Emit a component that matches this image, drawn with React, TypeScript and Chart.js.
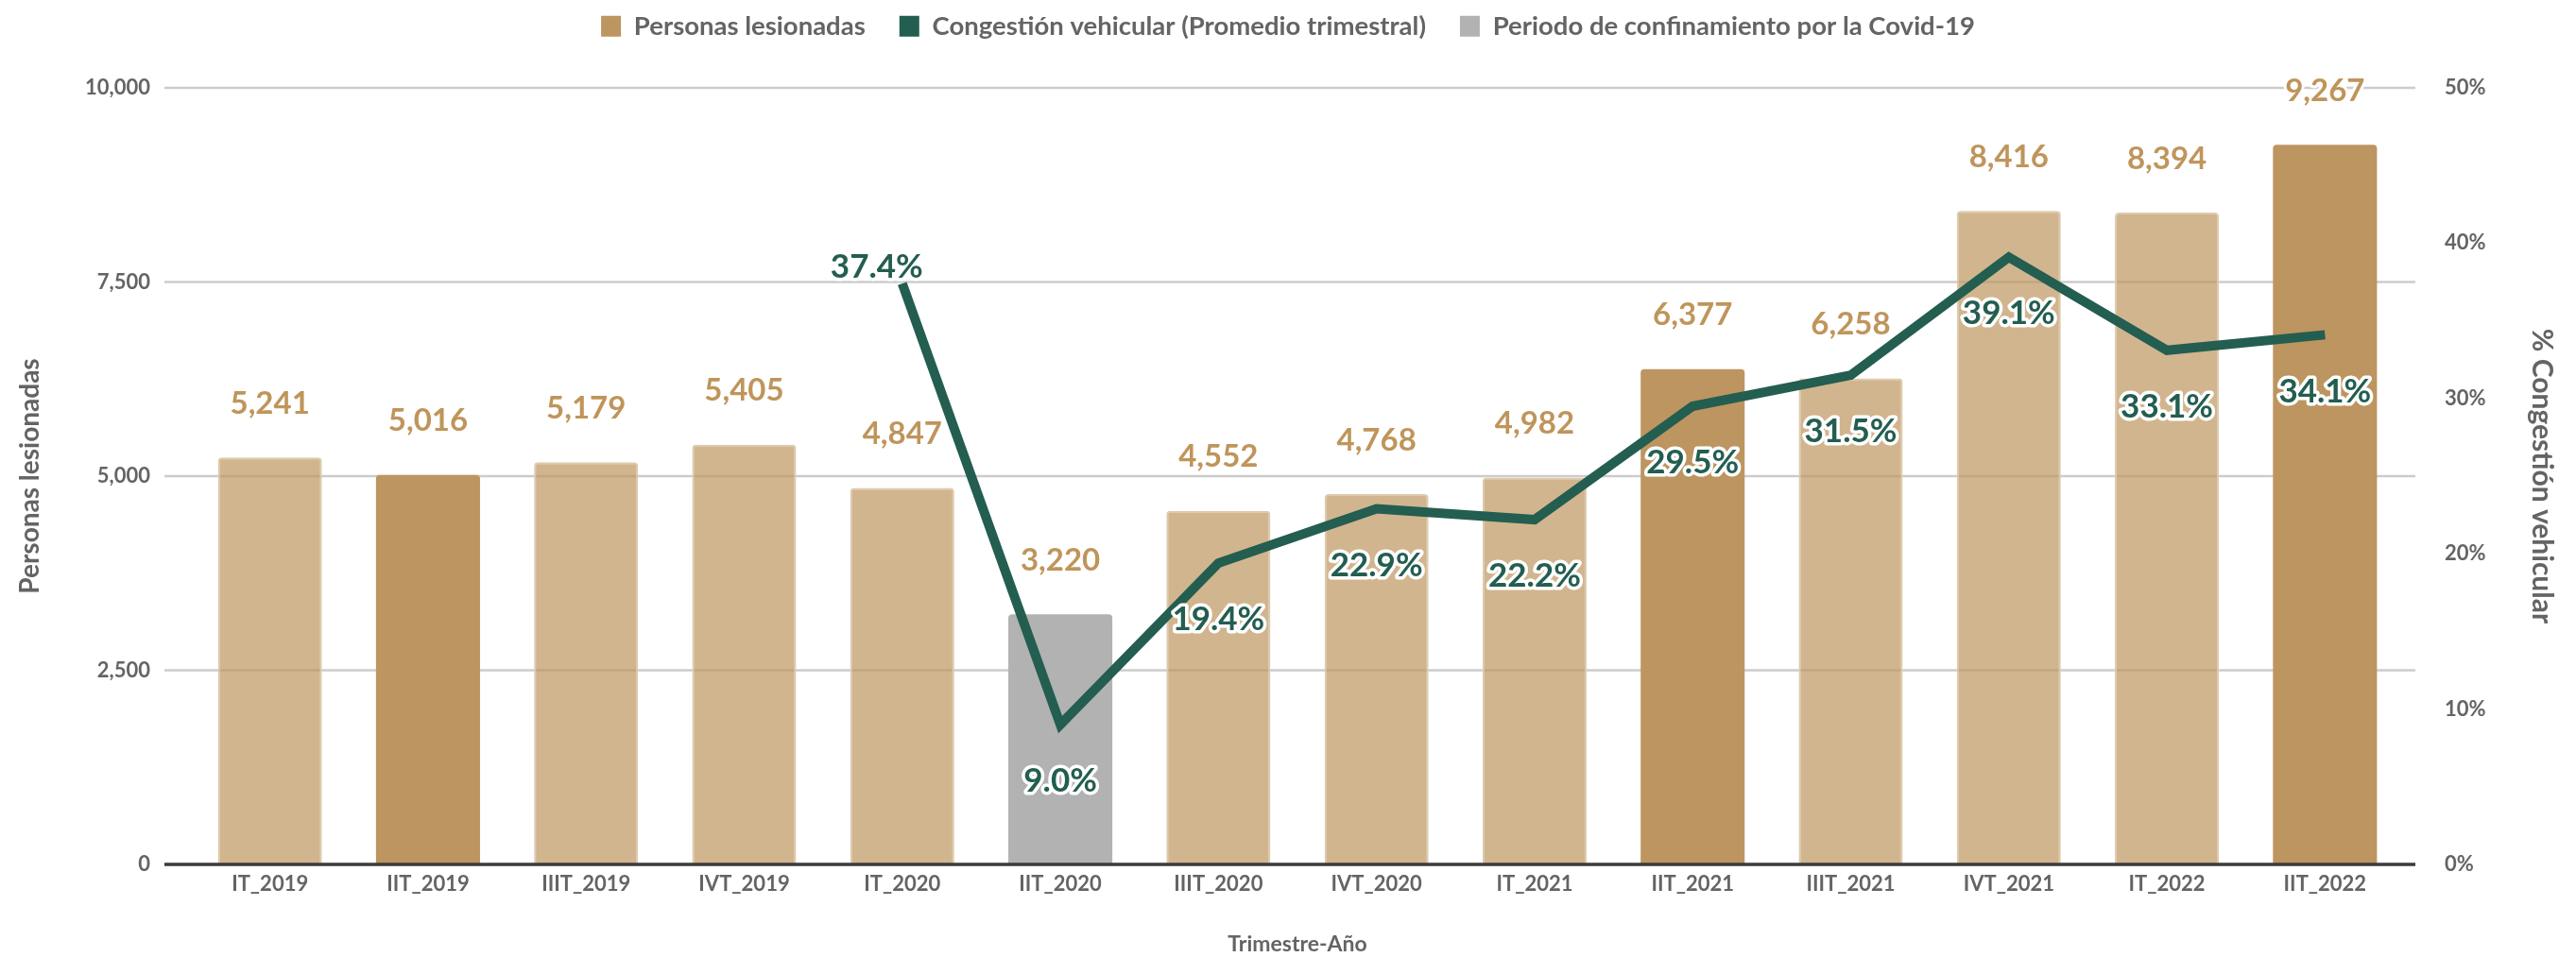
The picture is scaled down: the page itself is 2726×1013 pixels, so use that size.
import React, { useEffect, useRef } from 'react';
import { Chart, registerables } from 'chart.js';

Chart.register(...registerables);
Chart.defaults.font.family = 'Lato, "Open Sans", sans-serif';

// ---------- data ----------
const categories = [
  'IT_2019', 'IIT_2019', 'IIIT_2019', 'IVT_2019',
  'IT_2020', 'IIT_2020', 'IIIT_2020', 'IVT_2020',
  'IT_2021', 'IIT_2021', 'IIIT_2021', 'IVT_2021',
  'IT_2022', 'IIT_2022',
];
const injured = [5241, 5016, 5179, 5405, 4847, 3220, 4552, 4768, 4982, 6377, 6258, 8416, 8394, 9267];
const congestion: (number | null)[] = [null, null, null, null, 37.4, 9.0, 19.4, 22.9, 22.2, 29.5, 31.5, 39.1, 33.1, 34.1];
const highlighted = ['IIT_2019', 'IIT_2021', 'IIT_2022'];
const lockdown = ['IIT_2020'];
const leftAxis = { min: 0, max: 10000, step: 2500 };
const rightAxis = { min: 0, max: 50, step: 10 };
const seriesNames = [
  'Personas lesionadas',
  'Congestión vehicular (Promedio trimestral)',
  'Periodo de confinamiento por la Covid-19',
];

// ---------- style ----------
const DARK = '#BD9560';
const LIGHT = 'rgba(189,149,96,0.7)';
const LIGHT_EDGE = '#DDCAAD';
const GRAY = '#B2B2B2';
const GREEN = '#235E50';
const TAN_TEXT = '#BF955B';
const AXIS_TEXT = '#646464';
const GRID = '#CCCCCC';

const isLight = (i: number) => !highlighted.includes(categories[i]);

const customPlugin = {
  id: 'customDraw',
  beforeLayout(chart: any) {
    const lg = chart.legend;
    if (lg && !lg.__patched) {
      const orig = lg.fit;
      lg.fit = function () {
        orig.call(this);
        this.height = 93;
      };
      lg.__patched = true;
    }
  },
  afterLayout(chart: any) {
    const lg = chart.legend;
    if (lg) {
      lg.top -= 22;
      lg.bottom -= 22;
    }
  },
  beforeDatasetsDraw(chart: any) {
    const { ctx, chartArea } = chart;
    const y = chart.scales.y;
    ctx.save();
    ctx.strokeStyle = GRID;
    ctx.lineWidth = 2.5;
    y.ticks.forEach((t: any) => {
      if (t.value === leftAxis.min) return;
      const py = y.getPixelForValue(t.value);
      ctx.beginPath();
      ctx.moveTo(chartArea.left - 28, py);
      ctx.lineTo(chartArea.right + 12, py);
      ctx.stroke();
    });
    ctx.restore();
  },
  afterDatasetsDraw(chart: any) {
    const { ctx, chartArea } = chart;
    const y = chart.scales.y;
    ctx.save();
    // baseline
    const by = y.getPixelForValue(leftAxis.min);
    ctx.strokeStyle = '#3A3A3A';
    ctx.lineWidth = 3.5;
    ctx.beginPath();
    ctx.moveTo(chartArea.left - 28, by);
    ctx.lineTo(chartArea.right + 12, by);
    ctx.stroke();

    ctx.textAlign = 'center';
    ctx.textBaseline = 'middle';
    ctx.lineJoin = 'round';

    // bar labels
    [0, 2].forEach((di) => {
      const meta = chart.getDatasetMeta(di);
      const data = chart.data.datasets[di].data;
      meta.data.forEach((el: any, i: number) => {
        const v = data[i];
        if (v == null) return;
        const text = Number(v).toLocaleString('en-US');
        ctx.font = 'bold 33px Lato, "Open Sans", sans-serif';
        ctx.strokeStyle = '#FFFFFF';
        ctx.lineWidth = 6;
        ctx.strokeText(text, el.x, el.y - 57);
        ctx.fillStyle = TAN_TEXT;
        ctx.fillText(text, el.x, el.y - 57);
      });
    });

    // line labels
    const lmeta = chart.getDatasetMeta(1);
    const ldata = chart.data.datasets[1].data;
    lmeta.data.forEach((el: any, i: number) => {
      const v = ldata[i];
      if (v == null) return;
      const first = i === 0 || ldata[i - 1] == null;
      const x = first ? el.x - 27 : el.x;
      const yy = first ? el.y - 17 : el.y + 60;
      const text = Number(v).toFixed(1) + '%';
      ctx.font = 'bold 35px Lato, "Open Sans", sans-serif';
      ctx.strokeStyle = '#FFFFFF';
      ctx.lineWidth = 7;
      ctx.strokeText(text, x, yy);
      ctx.fillStyle = GREEN;
      ctx.fillText(text, x, yy);
    });
    ctx.restore();
  },
};

export default function App() {
  const ref = useRef<HTMLCanvasElement>(null);

  useEffect(() => {
    if (!ref.current) return;
    const mainBars = injured.map((v, i) => (lockdown.includes(categories[i]) ? null : v));
    const lockBars = injured.map((v, i) => (lockdown.includes(categories[i]) ? v : null));

    const chart = new Chart(ref.current, {
      type: 'bar',
      data: {
        labels: categories,
        datasets: [
          {
            type: 'bar',
            label: seriesNames[0],
            data: mainBars,
            yAxisID: 'y',
            backgroundColor: categories.map((_, i) => (isLight(i) ? LIGHT : DARK)),
            borderColor: LIGHT_EDGE,
            borderWidth: categories.map((_, i) =>
              isLight(i) ? { top: 2, left: 2, right: 2, bottom: 0 } : 0
            ) as any,
            borderRadius: 4,
            borderSkipped: 'bottom',
            grouped: false,
            barPercentage: 0.658,
            categoryPercentage: 1,
            order: 2,
          } as any,
          {
            type: 'line',
            label: seriesNames[1],
            data: congestion,
            yAxisID: 'y1',
            borderColor: GREEN,
            backgroundColor: GREEN,
            borderWidth: 10,
            borderJoinStyle: 'miter',
            borderCapStyle: 'butt',
            pointRadius: 0,
            pointHoverRadius: 0,
            tension: 0,
            spanGaps: false,
            order: 0,
          } as any,
          {
            type: 'bar',
            label: seriesNames[2],
            data: lockBars,
            yAxisID: 'y',
            backgroundColor: GRAY,
            borderWidth: 0,
            borderRadius: 4,
            borderSkipped: 'bottom',
            grouped: false,
            barPercentage: 0.658,
            categoryPercentage: 1,
            order: 1,
          } as any,
        ],
      },
      options: {
        responsive: false,
        animation: false,
        devicePixelRatio: 1,
        layout: { padding: 0 },
        plugins: {
          tooltip: { enabled: false },
          legend: {
            display: true,
            position: 'top',
            align: 'center',
            labels: {
              color: AXIS_TEXT,
              font: { size: 27.5, weight: 'bold' },
              boxWidth: 21,
              boxHeight: 22,
              padding: 36,
              generateLabels: (ch: any) =>
                [DARK, GREEN, GRAY].map((c, i) => ({
                  text: ch.data.datasets[i].label,
                  fillStyle: c,
                  strokeStyle: c,
                  lineWidth: 0,
                  hidden: false,
                  datasetIndex: i,
                  fontColor: AXIS_TEXT,
                })),
            },
          },
        },
        scales: {
          x: {
            grid: { display: false, drawTicks: false },
            border: { display: false },
            ticks: {
              color: AXIS_TEXT,
              font: { size: 22, weight: 'bold' },
              padding: 8,
              maxRotation: 0,
              autoSkip: false,
            },
            title: {
              display: true,
              text: 'Trimestre-Año',
              color: AXIS_TEXT,
              font: { size: 23, weight: 'bold' },
              padding: { top: 0, bottom: 0 },
            },
            afterFit: (s: any) => {
              s.height = 98;
            },
          },
          y: {
            position: 'left',
            min: leftAxis.min,
            max: leftAxis.max,
            grid: { display: false, drawTicks: false },
            border: { display: false },
            ticks: {
              stepSize: leftAxis.step,
              color: AXIS_TEXT,
              font: { size: 22, weight: 'bold' },
              padding: 43,
              callback: (v: any) => Number(v).toLocaleString('en-US'),
            },
            title: {
              display: true,
              text: 'Personas lesionadas',
              color: AXIS_TEXT,
              font: { size: 28, weight: 'bold' },
              padding: { top: 15, bottom: 0 },
            },
            afterFit: (s: any) => {
              s.width = 202;
            },
          },
          y1: {
            position: 'right',
            min: rightAxis.min,
            max: rightAxis.max,
            grid: { display: false, drawTicks: false },
            border: { display: false },
            ticks: {
              stepSize: rightAxis.step,
              color: AXIS_TEXT,
              font: { size: 22, weight: 'bold' },
              padding: 43,
              callback: (v: any) => `${v}%`,
            },
            title: {
              display: true,
              text: '% Congestión vehicular',
              color: AXIS_TEXT,
              font: { size: 30, weight: 'bold' },
              padding: { top: 18, bottom: 0 },
            },
            afterFit: (s: any) => {
              s.width = 182;
            },
          },
        },
      } as any,
      plugins: [customPlugin],
    });
    return () => chart.destroy();
  }, []);

  return (
    <div style={{ position: 'fixed', left: 0, top: 0, width: 2726, height: 1013, background: '#FFFFFF' }}>
      <canvas ref={ref} width={2726} height={1013} style={{ display: 'block', width: 2726, height: 1013 }} />
    </div>
  );
}
